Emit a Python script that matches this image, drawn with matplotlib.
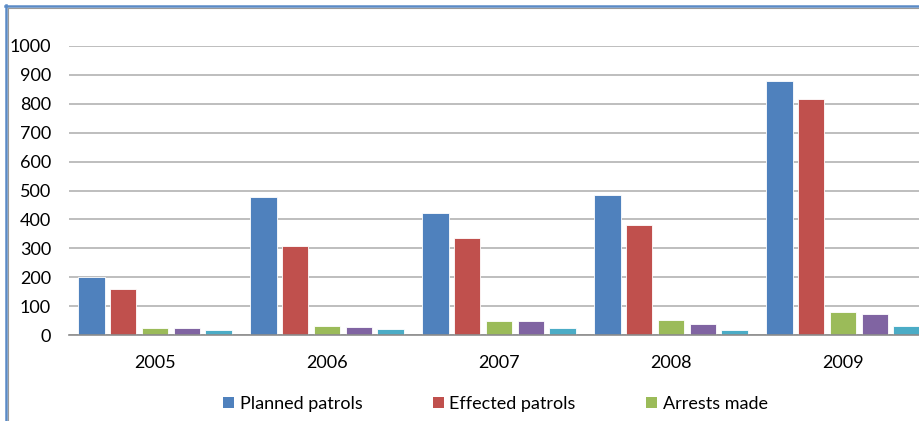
import matplotlib
matplotlib.use("Agg")
import matplotlib.pyplot as plt
import numpy as np
from matplotlib.patches import Patch
from matplotlib.lines import Line2D

years = ["2005", "2006", "2007", "2008", "2009"]
planned_patrols = [200, 478, 422, 484, 880]
effected_patrols = [160, 308, 336, 380, 815]
arrests_made = [25, 30, 50, 52, 80]
series4 = [23, 27, 47, 37, 73]
series5 = [17, 21, 24, 17, 30]

series = [planned_patrols, effected_patrols, arrests_made, series4, series5]
labels = ["Planned patrols", "Effected patrols", "Arrests made", None, None]
colors = ["#4F81BD", "#C0504D", "#9BBB59", "#8064A2", "#4BACC6"]

plt.rcParams['font.family'] = ['Lato', 'DejaVu Sans']
FS = 13

W, H = 919, 421
fig = plt.figure(figsize=(W / 100, H / 100), dpi=100)
ax = fig.add_axes([69 / W, (H - 335) / H, 860 / W, (335 - 46) / H])

x = np.arange(len(years))
pitch = 0.1846
width = 0.152
for i, (vals, c) in enumerate(zip(series, colors)):
    ax.bar(x + (i - 2) * pitch, vals, width=width, color=c,
           edgecolor="white", linewidth=0.6, zorder=3)

ax.set_xlim(-0.5, len(years) - 0.5)
ax.set_ylim(0, 1000)
ax.set_yticks(range(0, 1001, 100))
ax.set_xticks(x)
ax.set_xticklabels(years)
ax.yaxis.grid(True, color="#b3b3b3", linewidth=1.2, zorder=0)
ax.set_axisbelow(True)
for s in ["top", "right", "left"]:
    ax.spines[s].set_visible(False)
ax.spines["bottom"].set_color("#8c8c8c")
ax.spines["bottom"].set_linewidth(1.2)
ax.spines["bottom"].set_zorder(4)
ax.tick_params(axis="both", length=0, labelsize=FS, colors="#000000")
ax.tick_params(axis="y", pad=13)
ax.tick_params(axis="x", pad=14.5)

handles = [Patch(facecolor=colors[i], edgecolor="none") for i in range(3)]
fig.legend(handles, labels[:3], loc="center left",
           bbox_to_anchor=(223 / W, 1 - 404 / H), ncol=3, frameon=False,
           fontsize=FS, borderpad=0, borderaxespad=0, handlelength=0.62,
           handleheight=0.6, handletextpad=0.3, columnspacing=3.9)

# chart border (blue outer line with gray inner line on left and top)
fig.add_artist(Line2D([5.5 / W, 5.5 / W], [0, 1 - 5 / H], color="#5a8ac6",
                      linewidth=1.8, transform=fig.transFigure))
fig.add_artist(Line2D([5 / W, 1], [1 - 6 / H, 1 - 6 / H], color="#5a8ac6",
                      linewidth=1.8, transform=fig.transFigure))
fig.add_artist(Line2D([7.5 / W, 7.5 / W], [0, 1 - 7.5 / H], color="#9a9a9a",
                      linewidth=0.8, transform=fig.transFigure))
fig.add_artist(Line2D([7.5 / W, 1], [1 - 7.5 / H, 1 - 7.5 / H], color="#9a9a9a",
                      linewidth=0.8, transform=fig.transFigure))

fig.savefig("out.png", dpi=100, facecolor="white")
